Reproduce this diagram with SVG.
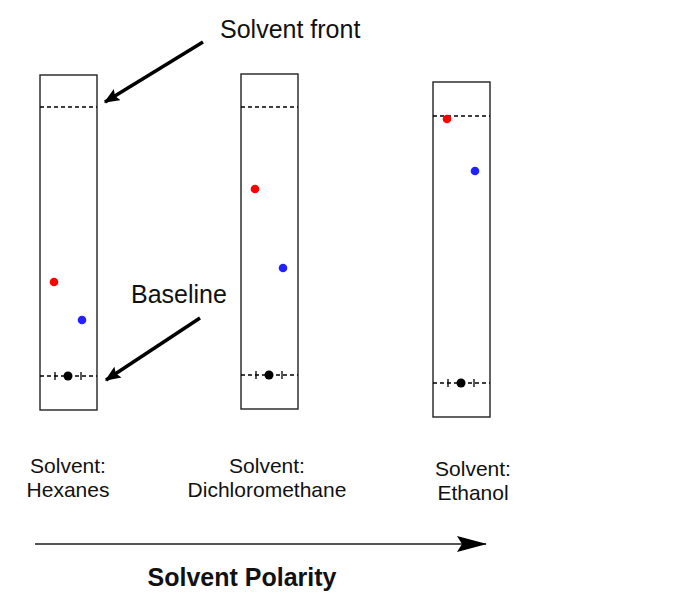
<svg xmlns="http://www.w3.org/2000/svg" width="694" height="600" viewBox="0 0 694 600">
<defs>
<style>
.plate{fill:#fff;stroke:#222;stroke-width:1.4}
.dash{stroke:#000;stroke-width:1.4;stroke-dasharray:4 3;fill:none}
.tick{stroke:#000;stroke-width:1.3}
.lbl{font-family:"Liberation Sans",Arial,sans-serif;font-size:21px;fill:#111;text-anchor:middle}
.call{font-family:"Liberation Sans",Arial,sans-serif;font-size:25px;fill:#111}
.arr{stroke:#000;stroke-width:3.5;fill:none}
</style>
<marker id="ah" viewBox="0 0 12 10" refX="11" refY="5" markerWidth="16" markerHeight="13" orient="auto" markerUnits="userSpaceOnUse">
<path d="M0,0 L12,5 L0,10 L2,5 z" fill="#000"/>
</marker>
<marker id="ah2" viewBox="0 0 30 16" refX="29" refY="8" markerWidth="30" markerHeight="16" orient="auto" markerUnits="userSpaceOnUse">
<path d="M0,0 L30,8 L0,16 L5,8 z" fill="#000"/>
</marker>
</defs>
<rect width="694" height="600" fill="#fff"/>
<g id="plate1">
<rect class="plate" x="40" y="75" width="57" height="335"/>
<line class="dash" x1="40" y1="107" x2="97" y2="107"/>
<line class="dash" x1="40" y1="376" x2="97" y2="376"/>
<line class="tick" x1="55" y1="372" x2="55" y2="380"/>
<line class="tick" x1="81" y1="372" x2="81" y2="380"/>
<circle cx="68" cy="376" r="4.5" fill="#000"/>
<circle cx="54" cy="282" r="4.3" fill="#f00"/>
<circle cx="82" cy="320" r="4.3" fill="#22f"/>
</g>
<g id="plate2">
<rect class="plate" x="241" y="74" width="57" height="335"/>
<line class="dash" x1="241" y1="107" x2="298" y2="107"/>
<line class="dash" x1="241" y1="375" x2="298" y2="375"/>
<line class="tick" x1="256" y1="371" x2="256" y2="379"/>
<line class="tick" x1="282" y1="371" x2="282" y2="379"/>
<circle cx="269" cy="375" r="4.5" fill="#000"/>
<circle cx="255" cy="189" r="4.3" fill="#f00"/>
<circle cx="283" cy="268" r="4.3" fill="#22f"/>
</g>
<g id="plate3">
<rect class="plate" x="433" y="82" width="57" height="335"/>
<line class="dash" x1="433" y1="116" x2="490" y2="116"/>
<line class="dash" x1="433" y1="383" x2="490" y2="383"/>
<line class="tick" x1="448" y1="379" x2="448" y2="387"/>
<line class="tick" x1="474" y1="379" x2="474" y2="387"/>
<circle cx="461" cy="383" r="4.5" fill="#000"/>
<circle cx="447" cy="119" r="4.3" fill="#f00"/>
<circle cx="475" cy="171" r="4.3" fill="#22f"/>
</g>
<g id="labels">
<text class="call" x="220" y="38">Solvent front</text>
<text class="call" x="131" y="303">Baseline</text>
<text class="lbl" x="68" y="473">Solvent:</text>
<text class="lbl" x="68" y="497">Hexanes</text>
<text class="lbl" x="267" y="473">Solvent:</text>
<text class="lbl" x="267" y="497">Dichloromethane</text>
<text class="lbl" x="473" y="476">Solvent:</text>
<text class="lbl" x="473" y="500">Ethanol</text>
<text x="242" y="586" text-anchor="middle" font-family="Liberation Sans,Arial,sans-serif" font-size="25" font-weight="bold" fill="#111">Solvent Polarity</text>
</g>
<g id="connectors">
<line class="arr" x1="203" y1="42" x2="105" y2="102" marker-end="url(#ah)"/>
<line class="arr" x1="200" y1="318" x2="106" y2="380" marker-end="url(#ah)"/>
<line x1="35" y1="544" x2="486" y2="544" stroke="#555" stroke-width="2" marker-end="url(#ah2)"/>
</g>
</svg>
